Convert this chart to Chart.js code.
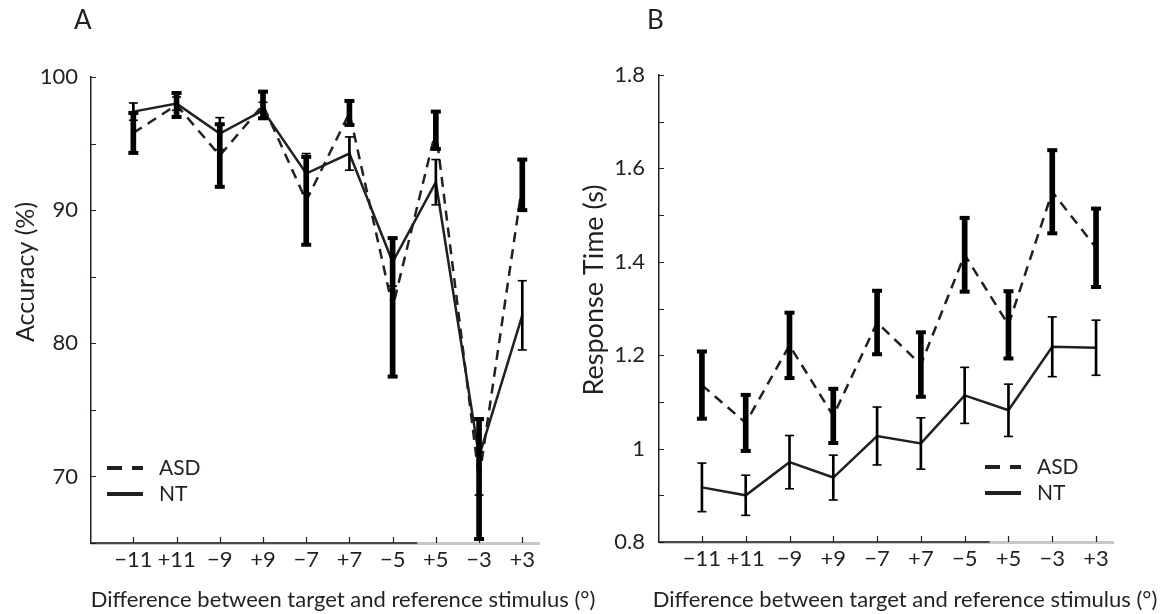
<!DOCTYPE html>
<html>
<head>
<meta charset="utf-8">
<script src="https://cdn.jsdelivr.net/npm/chart.js@4.4.1/dist/chart.umd.min.js"></script>
<style>
body{margin:0;background:#fff;width:1168px;height:614px;overflow:hidden;position:relative;font-family:Lato,sans-serif;color:#231f20}
.panel{position:absolute;top:0}
.letter{position:absolute;top:3px;font-size:26px}
</style>
</head>
<body>
<div class="panel" style="left:580px"><canvas id="chartB" width="588" height="614"></canvas></div>
<div class="panel" style="left:0"><canvas id="chartA" width="620" height="614"></canvas></div>
<div class="letter" style="left:74px">A</div>
<div class="letter" style="left:647px">B</div>
<script>
// stimulus order on the x axis
var stimulusLabels = ['\u221211', '+11', '\u22129', '+9', '\u22127', '+7', '\u22125', '+5', '\u22123', '+3'];

// panel A - accuracy (%)
var accuracyASD    = [95.8, 97.9, 94.1, 97.9, 90.7, 97.3, 82.7, 96.0, 69.8, 91.9];
var accuracyASDErr = [1.5, 0.9, 2.35, 1.0, 3.3, 0.9, 5.2, 1.4, 4.5, 1.9];
var accuracyNT     = [97.4, 98.0, 95.75, 97.5, 92.75, 94.25, 86.1, 92.1, 71.5, 82.1];
var accuracyNTErr  = [0.65, 0.5, 1.2, 0.6, 1.5, 1.25, 1.8, 1.7, 2.9, 2.6];

// panel B - response time (s)
var rtASD    = [1.136, 1.055, 1.221, 1.07, 1.27, 1.18, 1.415, 1.265, 1.55, 1.43];
var rtASDErr = [0.072, 0.06, 0.07, 0.058, 0.068, 0.069, 0.079, 0.072, 0.089, 0.084];
var rtNT     = [0.917, 0.90, 0.971, 0.938, 1.027, 1.011, 1.114, 1.082, 1.218, 1.216];
var rtNTErr  = [0.052, 0.043, 0.057, 0.048, 0.062, 0.055, 0.06, 0.056, 0.064, 0.059];

var xTitle = 'Difference between target and reference stimulus (\u00b0)';

var ink = '#231f20';
Chart.defaults.font.family = 'Lato';
Chart.defaults.color = ink;

function linePoints(vals){
    return vals.map(function(v, i){ return {x: i + 1, y: v}; });
}
function errorBars(vals, errs){
    return vals.map(function(v, i){ return {x: i + 1, y: [v - errs[i], v + errs[i]]}; });
}
function capPoints(vals, errs){
    var pts = [];
    vals.forEach(function(v, i){
        pts.push({x: i + 1, y: v - errs[i]});
        pts.push({x: i + 1, y: v + errs[i]});
    });
    return pts;
}

// inward ticks, the grey/black x axis line, axis titles and the little legend
var axisDecor = {
    id: 'axisDecor',
    beforeDatasetsDraw: function(chart){
        var ctx = chart.ctx, area = chart.chartArea;
        var xs = chart.scales.x, ys = chart.scales.y;
        ctx.save();
        ctx.strokeStyle = '#c8c8c8';
        ctx.lineWidth = 3;
        ctx.beginPath();
        ctx.moveTo(area.left, area.bottom + 0.5);
        ctx.lineTo(area.right, area.bottom + 0.5);
        ctx.stroke();
        ctx.strokeStyle = ink;
        ctx.lineWidth = 1.3;
        ctx.beginPath();
        ctx.moveTo(area.left, area.bottom);
        ctx.lineTo(xs.getPixelForValue(7.57), area.bottom);
        ctx.stroke();
        ctx.lineWidth = 1.2;
        ctx.beginPath();
        ys.ticks.forEach(function(t){
            var py = Math.round(ys.getPixelForValue(t.value)) + 0.5;
            ctx.moveTo(area.left, py);
            ctx.lineTo(area.left + 5, py);
        });
        xs.ticks.forEach(function(t){
            var px = Math.round(xs.getPixelForValue(t.value)) + 0.5;
            ctx.moveTo(px, area.bottom);
            ctx.lineTo(px, area.bottom - 6);
        });
        ctx.stroke();
        ctx.restore();
    },
    afterDraw: function(chart, args, opts){
        var ctx = chart.ctx;
        var x = opts.legendX, y = opts.legendY;
        ctx.save();
        ctx.strokeStyle = ink;
        ctx.lineWidth = 4;
        ctx.beginPath();
        ctx.moveTo(x, y); ctx.lineTo(x + 15, y);
        ctx.moveTo(x + 25, y); ctx.lineTo(x + 36, y);
        ctx.moveTo(x, y + 26); ctx.lineTo(x + 36, y + 26);
        ctx.stroke();
        ctx.fillStyle = ink;
        ctx.textBaseline = 'middle';
        ctx.font = '21px Lato';
        ctx.fillText('ASD', x + 52, y);
        ctx.fillText('NT', x + 52, y + 26);

        ctx.textAlign = 'center';
        ctx.font = '22px Lato';
        ctx.fillText(xTitle, opts.xTitleX, 600);

        ctx.translate(opts.yTitleX, opts.yTitleY);
        ctx.rotate(-Math.PI / 2);
        ctx.font = opts.yTitleSize + 'px Lato';
        ctx.fillText(opts.yTitle, 0, 0);
        ctx.restore();
    }
};

function makeChart(canvasId, p){
    var datasets = [
        {type: 'line', data: linePoints(p.asd), borderColor: ink, borderWidth: 2.5,
         borderDash: [10, 7], pointRadius: 0, tension: 0, order: 3},
        {type: 'line', data: linePoints(p.nt), borderColor: ink, borderWidth: 2.5,
         pointRadius: 0, tension: 0, order: 3},
        {type: 'bar', data: errorBars(p.asd, p.asdErr), backgroundColor: '#000',
         barThickness: 5, grouped: false, borderWidth: 0, order: 2},
        {type: 'bar', data: errorBars(p.nt, p.ntErr), backgroundColor: '#000',
         barThickness: 2, grouped: false, borderWidth: 0, order: 2},
        {type: 'scatter', data: capPoints(p.asd, p.asdErr), pointStyle: 'line',
         pointRadius: 5, borderWidth: 4, borderColor: '#000', order: 1},
        {type: 'scatter', data: capPoints(p.nt, p.ntErr), pointStyle: 'line',
         pointRadius: 4.5, borderWidth: 1.6, borderColor: '#000', order: 1}
    ];

    return new Chart(document.getElementById(canvasId), {
        type: 'line',
        data: {datasets: datasets},
        options: {
            responsive: false,
            animation: false,
            devicePixelRatio: 1,
            layout: {padding: {top: p.top, right: p.right, left: 0, bottom: 0}},
            plugins: {
                legend: {display: false},
                tooltip: {enabled: false},
                axisDecor: {
                    legendX: p.legendX, legendY: p.legendY, xTitleX: p.xTitleX,
                    yTitle: p.yTitle, yTitleX: p.yTitleX, yTitleY: p.yTitleY, yTitleSize: p.yTitleSize
                }
            },
            scales: {
                x: {
                    type: 'linear',
                    min: 0.02,
                    max: 10.41,
                    offset: false,
                    grid: {display: false, drawTicks: false, offset: false},
                    border: {display: false},
                    afterBuildTicks: function(scale){
                        scale.ticks = stimulusLabels.map(function(l, i){ return {value: i + 1}; });
                    },
                    afterFit: function(scale){ scale.height = p.xHeight; },
                    ticks: {
                        autoSkip: false, maxRotation: 0, padding: 4,
                        font: {size: 22},
                        callback: function(v){ return stimulusLabels[v - 1]; }
                    }
                },
                y: {
                    min: p.yMin,
                    max: p.yMax,
                    grid: {display: false, drawTicks: false},
                    border: {display: true, color: ink, width: 1.5},
                    afterFit: function(scale){ scale.width = p.yWidth; },
                    ticks: {
                        stepSize: p.step, padding: p.tickPad,
                        font: {size: 22},
                        callback: p.yLabel
                    }
                }
            }
        },
        plugins: [axisDecor]
    });
}

var accuracyChart = makeChart('chartA', {
    asd: accuracyASD, asdErr: accuracyASDErr, nt: accuracyNT, ntErr: accuracyNTErr,
    yMin: 65, yMax: 100, step: 5,
    yLabel: function(v){ return v % 10 === 0 ? String(v) : ''; },
    yTitle: 'Accuracy (%)', yTitleX: 26, yTitleY: 272, yTitleSize: 25,
    xTitleX: 343,
    top: 77, right: 80, yWidth: 91, xHeight: 71, tickPad: 13,
    legendX: 107, legendY: 468
});

var rtChart = makeChart('chartB', {
    asd: rtASD, asdErr: rtASDErr, nt: rtNT, ntErr: rtNTErr,
    yMin: 0.8, yMax: 1.8, step: 0.1,
    yLabel: function(v){
        var r = Math.round(v * 10);
        if (r % 2 !== 0) return '';
        return r === 10 ? '1' : (r / 10).toFixed(1);
    },
    yTitle: 'Response Time (s)', yTitleX: 14, yTitleY: 290, yTitleSize: 27,
    xTitleX: 325,
    top: 75, right: 54, yWidth: 79, xHeight: 72, tickPad: 14,
    legendX: 405, legendY: 467
});
</script>
</body>
</html>
